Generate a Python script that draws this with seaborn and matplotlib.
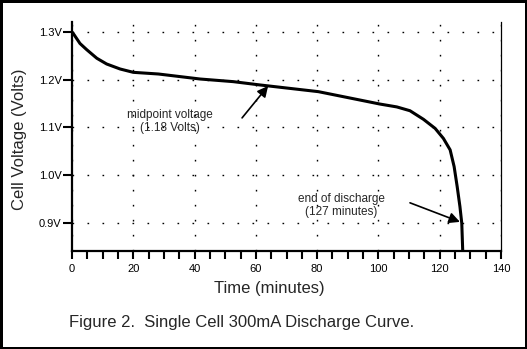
import matplotlib
matplotlib.use("Agg")
import matplotlib.pyplot as plt
import seaborn as sns
import pandas as pd

time_min = [0, 0.4, 2.6, 4.8, 8.1, 11.3, 15.7, 20, 28.2, 41.8, 52.6, 61.4,
            80.4, 100.5, 106, 110.3, 114.7, 118.5, 121.2, 123.4, 124.7,
            125.7, 126.6, 127.2, 127.5]
volts = [1.30, 1.297, 1.276, 1.263, 1.245, 1.233, 1.2225, 1.2155, 1.212, 1.2015,
         1.196, 1.189, 1.175, 1.149, 1.143, 1.135, 1.117, 1.098, 1.077, 1.053,
         1.018, 0.976, 0.934, 0.899, 0.843]

x_ticks = [0, 20, 40, 60, 80, 100, 120, 140]
y_ticks = [0.9, 1.0, 1.1, 1.2, 1.3]
y_tick_labels = ["0.9V", "1.0V", "1.1V", "1.2V", "1.3V"]

df = pd.DataFrame({"Time": time_min, "Volts": volts})

sns.set_style("white", {"xtick.bottom": True, "ytick.left": True})
plt.rcParams["font.family"] = ["Liberation Sans", "DejaVu Sans"]

fig = plt.figure(figsize=(5.27, 3.49), dpi=100, linewidth=2.5, edgecolor="black")
ax = fig.add_axes([72 / 527, 1 - 251 / 349, 429 / 527, 229 / 349])

sns.lineplot(data=df, x="Time", y="Volts", ax=ax, color="black", lw=2.2)

ax.set_xlim(0, 140)
ax.set_ylim(0.841, 1.321)
ax.set_xticks(x_ticks)
ax.set_xticks(range(0, 141, 5), minor=True)
ax.set_yticks(y_ticks)
ax.set_yticklabels(y_tick_labels)

for s in ["left", "bottom"]:
    ax.spines[s].set_linewidth(1.6)
    ax.spines[s].set_color("black")
ax.spines["right"].set_linewidth(0.9)
ax.spines["right"].set_color("black")
ax.spines["top"].set_visible(False)

ax.tick_params(axis="y", which="major", direction="out", length=6.5, width=1.5,
               labelsize=8, pad=1, colors="black", left=True)
ax.tick_params(axis="x", which="both", direction="out", length=5.5, width=1.5,
               labelsize=8, pad=4, colors="black", bottom=True)

ax.grid(True, which="major", color="black", linestyle=(0, (1.2, 9.6)), lw=1.0)

ax.set_xlabel("Time (minutes)", fontsize=12)
ax.set_ylabel("Cell Voltage (Volts)", fontsize=12)
ax.xaxis.set_label_coords(0.46, -0.162)
ax.xaxis.label.set_va("center")
ax.yaxis.set_label_coords(-0.1235, 0.49)
ax.yaxis.label.set_va("center")

arrow = dict(arrowstyle="-|>", lw=1.2, color="black", mutation_scale=16, shrinkA=0, shrinkB=0)
ax.annotate("", xy=(64, 1.187), xytext=(55.5, 1.12), arrowprops=arrow)
ax.annotate("", xy=(126.6, 0.902), xytext=(110.3, 0.942), arrowprops=arrow)
ax.text(32, 1.1124, "midpoint voltage\n(1.18 Volts)", ha="center", va="center",
        multialignment="center", fontsize=8.5, linespacing=1.1)
ax.text(88, 0.9363, "end of discharge\n(127 minutes)", ha="center", va="center",
        multialignment="center", fontsize=8.5, linespacing=1.1)

fig.text(241.5 / 527, 1 - 323 / 349, "Figure 2.  Single Cell 300mA Discharge Curve.",
         ha="center", va="center", fontsize=12)

fig.savefig("out.png", dpi=100)
